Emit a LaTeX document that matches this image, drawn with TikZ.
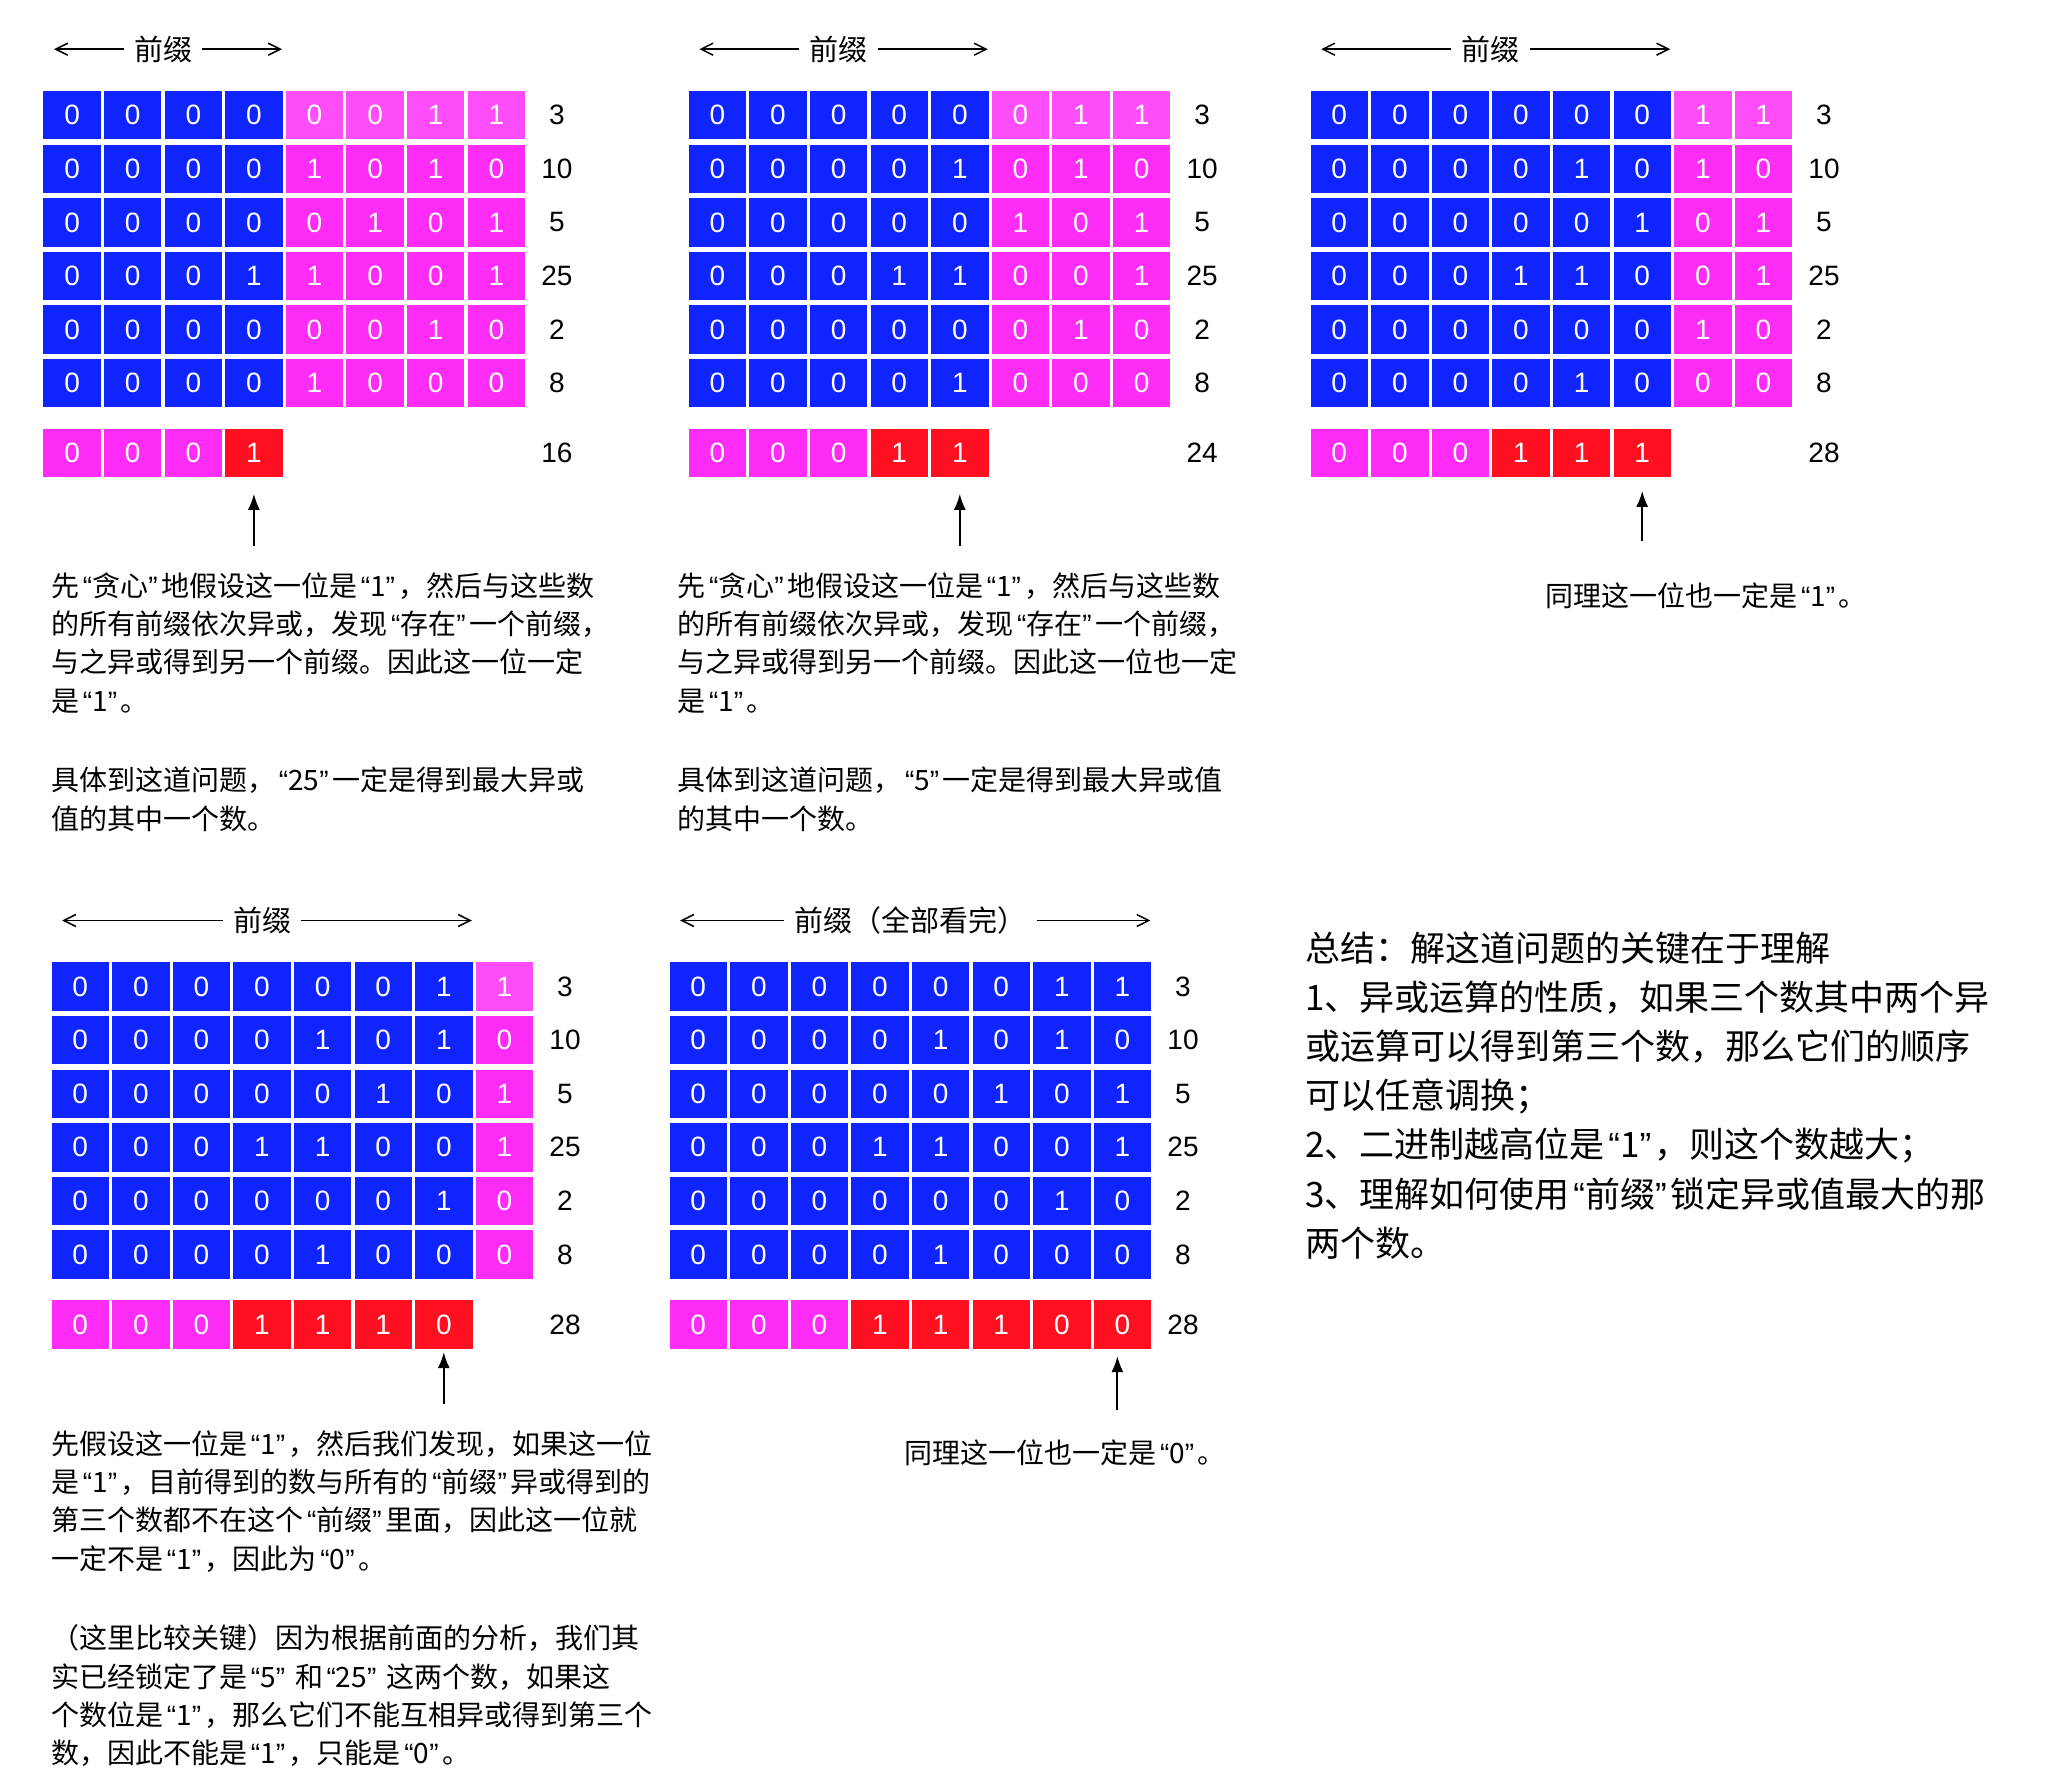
\documentclass[tikz,border=0pt]{standalone}
\usepackage{fontspec}
\setmainfont{Noto Sans CJK SC}
\newfontfamily\latinfont{Liberation Sans}
\usetikzlibrary{arrows.meta,positioning}
\definecolor{bitBlue}{HTML}{0F24FF}
\definecolor{bitPink}{HTML}{FF2CF7}
\definecolor{bitPinkLt}{HTML}{FF4DF9}
\definecolor{bitRed}{HTML}{FF0F1F}

\newcommand\cq[1]{\kern1.8pt\relax{\latinfont “}#1{\latinfont ”}\kern1.8pt\relax}

% row / bits / value
\newcommand\xorrows{1/{0,0,0,0,0,0,1,1}/3, 2/{0,0,0,0,1,0,1,0}/10, 3/{0,0,0,0,0,1,0,1}/5,
  4/{0,0,0,1,1,0,0,1}/25, 5/{0,0,0,0,0,0,1,0}/2, 6/{0,0,0,0,1,0,0,0}/8}

\tikzset{
  bitcell/.style={minimum width=28.7pt, minimum height=24.2pt, inner sep=0pt, text=white,
    font=\latinfont\fontsize{14}{14}\selectfont},
  numlabel/.style={inner sep=0pt, font=\latinfont\fontsize{14}{14}\selectfont},
  header/.style={inner xsep=5pt, inner ysep=0pt, font=\fontsize{14.5}{14.5}\selectfont},
  spanarrow/.style={-{Straight Barb[length=6pt,width=6pt]}, line width=0.75pt},
  uparrow/.style={-{Latex[length=8pt,width=6pt]}, line width=1pt},
  body/.style={anchor=north west, align=left, inner sep=0pt, font=\fontsize{14}{19.15}\selectfont},
  summary/.style={anchor=north west, align=left, inner sep=0pt, font=\fontsize{17.5}{24.6}\selectfont}
}

% #1 name, #2 x of first column, #3 y of first row, #4 blue columns,
% #5 header, #6 result bits, #7 result value
\newcommand\bitgrid[7]{%
  \foreach \r/\bits/\val in \xorrows {
    \foreach \b [count=\c] in \bits {
      \ifnum\c>#4\relax
        \ifnum\r=1 \def\cellcol{bitPinkLt}\else\def\cellcol{bitPink}\fi
      \else\def\cellcol{bitBlue}\fi
      \node[bitcell, fill=\cellcol] (#1-\r-\c) at ({#2+(\c-1)*60.6},{#3+(\r-1)*53.6}) {\b};
    }
    \node[numlabel] (#1-v\r) at ({#2+8*60.6},{#3+(\r-1)*53.6}) {\val};
  }
  \foreach \b [count=\c] in {#6} {
    \ifnum\c>3 \def\cellcol{bitRed}\else\def\cellcol{bitPink}\fi
    \node[bitcell, fill=\cellcol] (#1-r-\c) at ({#2+(\c-1)*60.6},{#3+338}) {\b};
  }
  \node[numlabel] (#1-vr) at ({#2+8*60.6},{#3+338}) {#7};
  \node[header] (#1-h) at ({#2+(#4-1)*30.3},{#3-66}) {#5};
  \coordinate (#1-hl) at ({#2-18},{#3-66});
  \coordinate (#1-hr) at ({#2+(#4-1)*60.6+28},{#3-66});
  \draw[spanarrow] (#1-h) -- (#1-hl);
  \draw[spanarrow] (#1-h) -- (#1-hr);
}

\begin{document}
\begin{tikzpicture}[x=0.5pt, y=-0.5pt]
  \fill[white] (0,0) rectangle (2046,1786);
  \useasboundingbox (0,0) rectangle (2046,1786);

  % the five steps
  \bitgrid{A}{72.1}{115.2}{4}{前缀}{0,0,0,1}{16}
  \bitgrid{B}{717.4}{115.2}{5}{前缀}{0,0,0,1,1}{24}
  \bitgrid{C}{1339.2}{115.2}{6}{前缀}{0,0,0,1,1,1}{28}
  \bitgrid{D}{80.2}{986.5}{7}{前缀}{0,0,0,1,1,1,0}{28}
  \bitgrid{E}{698.2}{986.5}{8}{前缀（全部看完）}{0,0,0,1,1,1,0,0}{28}

  % arrows to the bit being decided
  \coordinate[below=34pt of A-r-4] (A-t);
  \draw[uparrow, shorten >=8pt] (A-t) -- (A-r-4);
  \coordinate[below=34pt of B-r-5] (B-t);
  \draw[uparrow, shorten >=8pt] (B-t) -- (B-r-5);
  \coordinate[below=31.5pt of C-r-6] (C-t);
  \draw[uparrow, shorten >=6.5pt] (C-t) -- (C-r-6);
  \coordinate[below=27.5pt of D-r-7] (D-t);
  \draw[uparrow, shorten >=1.5pt] (D-t) -- (D-r-7);
  \coordinate[below=30.5pt of E-r-8, xshift=-2.5pt] (E-t);
  \draw[uparrow, shorten >=3.5pt] (E-t) -- (E-t |- E-r-8.south);

  % explanations
  \node[body] (A-txt) at (51,572) {先\cq{贪心}地假设这一位是\cq{1}，然后与这些数\\的所有前缀依次异或，发现\cq{存在}一个前缀，\\与之异或得到另一个前缀。因此这一位一定\\是\cq{1}。\\[20.8pt]具体到这道问题，\cq{25}一定是得到最大异或\\值的其中一个数。};
  \node[body] (B-txt) at (677,572) {先\cq{贪心}地假设这一位是\cq{1}，然后与这些数\\的所有前缀依次异或，发现\cq{存在}一个前缀，\\与之异或得到另一个前缀。因此这一位也一定\\是\cq{1}。\\[20.8pt]具体到这道问题，\cq{5}一定是得到最大异或值\\的其中一个数。};
  \node[body] (C-txt) at (1545,582) {同理这一位也一定是\cq{1}。};
  \node[body] (D-txt) at (51,1430) {先假设这一位是\cq{1}，然后我们发现，如果这一位\\是\cq{1}，目前得到的数与所有的\cq{前缀}异或得到的\\第三个数都不在这个\cq{前缀}里面，因此这一位就\\一定不是\cq{1}，因此为\cq{0}。\\[20.8pt]（这里比较关键）因为根据前面的分析，我们其\\实已经锁定了是\cq{5} 和\cq{25} 这两个数，如果这\\个数位是\cq{1}，那么它们不能互相异或得到第三个\\数，因此不能是\cq{1}，只能是\cq{0}。};
  \node[body] (E-txt) at (904,1439) {同理这一位也一定是\cq{0}。};

  % summary
  \node[summary] (sum) at (1305,931) {总结：解这道问题的关键在于理解\\1、异或运算的性质，如果三个数其中两个异\\或运算可以得到第三个数，那么它们的顺序\\可以任意调换；\\2、二进制越高位是\cq{1}，则这个数越大；\\3、理解如何使用\cq{前缀}锁定异或值最大的那\\两个数。};
\end{tikzpicture}
\end{document}
